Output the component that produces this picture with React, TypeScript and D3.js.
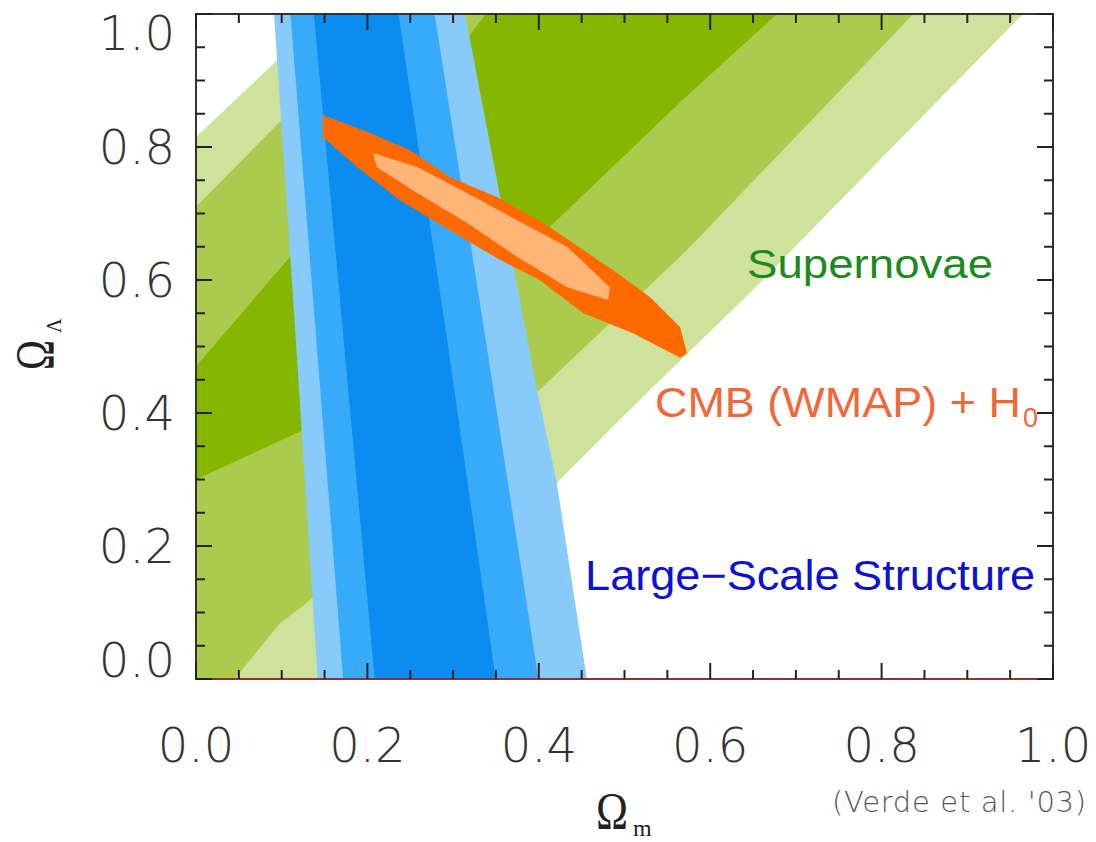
import React from "react";
import * as d3 from "d3";

type Pt = [number, number];

// Supernovae confidence regions in (Omega_m, Omega_Lambda), outer to inner
const snOuter: Pt[] = [
  [-0.03, 0.78], [0, 0.815], [0.095, 0.931], [0.16, 1.02], [0.975, 1.02],
  [0.965, 1.0], [0.8, 0.783], [0.646, 0.58], [0.53, 0.435], [0.421, 0.295],
  [0.3, 0.14], [0.189, 0.0], [0.175, -0.02], [-0.03, -0.02],
];
const snMid: Pt[] = [
  [-0.03, 0.67], [0, 0.71], [0.11, 0.854], [0.22, 1.02], [0.845, 1.02],
  [0.837, 1.0], [0.573, 0.645], [0.401, 0.435], [0.17, 0.16], [0.125, 0.11],
  [0.098, 0.084], [0.045, 0.0], [0.03, -0.02], [-0.03, -0.02],
];
const snInner: Pt[] = [
  [-0.03, 0.425], [0, 0.47], [0.1225, 0.654], [0.25, 0.85], [0.35, 1.02],
  [0.69, 1.02], [0.678, 1.0], [0.568, 0.871], [0.413, 0.68], [0.27, 0.52],
  [0.135, 0.38], [0, 0.3], [-0.03, 0.285],
];

// Large-scale structure bands
const lssOuter: Pt[] = [
  [0.09, 1.02], [0.1165, 0.51], [0.143, -0.02], [0.457, -0.02], [0.456, 0.0],
  [0.421, 0.295], [0.398, 0.435], [0.314, 1.0], [0.311, 1.02],
];
const lssMid: Pt[] = [
  [0.109, 1.02], [0.173, -0.02], [0.402, -0.02], [0.338, 0.51], [0.276, 1.02],
];
const lssInner: Pt[] = [
  [0.136, 1.02], [0.21, -0.02], [0.352, -0.02], [0.293, 0.51], [0.234, 1.02],
];

// CMB (WMAP) + H0 region
const cmbOuter: Pt[] = [
  [0.148, 0.848], [0.1995, 0.823], [0.25, 0.795], [0.296, 0.755], [0.351, 0.725],
  [0.405, 0.686], [0.452, 0.645], [0.491, 0.611], [0.53, 0.574], [0.565, 0.529],
  [0.573, 0.49], [0.565, 0.483], [0.51, 0.52], [0.452, 0.55], [0.401, 0.6],
  [0.355, 0.63], [0.296, 0.675], [0.238, 0.72], [0.188, 0.77], [0.148, 0.815],
];
const cmbInner: Pt[] = [
  [0.2065, 0.791], [0.258, 0.77], [0.316, 0.731], [0.3745, 0.69], [0.433, 0.65],
  [0.483, 0.589], [0.481, 0.57], [0.433, 0.589], [0.3745, 0.635], [0.316, 0.686],
  [0.258, 0.731], [0.211, 0.77],
];

const majorTicks = [0, 0.2, 0.4, 0.6, 0.8, 1.0];
const tickLabels = ["0.0", "0.2", "0.4", "0.6", "0.8", "1.0"];
const minorTicks = d3.range(0, 21).map((i) => i * 0.05);

const W = 1096;
const H = 842;
const margin = { top: 14, right: 43, bottom: 163, left: 196 };

export default function App() {
  const x = d3.scaleLinear().domain([0, 1]).range([margin.left, W - margin.right]);
  const y = d3.scaleLinear().domain([0, 1]).range([H - margin.bottom, margin.top]);
  const line = d3
    .line<Pt>()
    .x((d) => x(d[0]))
    .y((d) => y(d[1]))
    .curve(d3.curveLinearClosed);

  const x0 = x(0), x1 = x(1), y0 = y(0), y1 = y(1);
  const majorLen = 16;
  const minorLen = 9;
  const isMajor = (v: number) => Math.abs(v * 5 - Math.round(v * 5)) < 1e-6;

  const regions: { pts: Pt[]; fill: string }[] = [
    { pts: snOuter, fill: "#cfe29c" },
    { pts: snMid, fill: "#aacb4e" },
    { pts: snInner, fill: "#86b700" },
    { pts: lssOuter, fill: "#88cbfa" },
    { pts: lssMid, fill: "#38aafa" },
    { pts: lssInner, fill: "#0a8cf0" },
    { pts: cmbOuter, fill: "#ff6a00" },
    { pts: cmbInner, fill: "#ffb478" },
  ];

  const sans = "'Liberation Sans', Arial, sans-serif";
  const tickFont = "'DejaVu Sans', sans-serif";
  const serif = "'Liberation Serif', 'Times New Roman', serif";

  return (
    <svg width={W} height={H} style={{ position: "absolute", left: 0, top: 0, background: "#fff" }}>
      <defs>
        <clipPath id="plot">
          <rect x={x0} y={y1} width={x1 - x0} height={y0 - y1} />
        </clipPath>
      </defs>
      <g clipPath="url(#plot)">
        {regions.map((r, i) => (
          <path key={i} d={line(r.pts) || ""} fill={r.fill} />
        ))}
      </g>

      {/* annotations */}
      <text x={x(0.643)} y={y(0.603)} fontFamily={sans} fontSize={40} fill="#1d8a1d"
        textLength={246} lengthAdjust="spacingAndGlyphs">Supernovae</text>
      <text x={x(0.5355)} y={y(0.394)} fontFamily={sans} fontSize={42} fill="#f0683a"
        textLength={366} lengthAdjust="spacingAndGlyphs">CMB (WMAP) + H</text>
      <text x={x(0.5355) + 368} y={y(0.394) + 10} fontFamily={sans} fontSize={27} fill="#f0683a">0</text>
      <text x={x(0.454)} y={y(0.134)} fontFamily={sans} fontSize={42} fill="#0d12d0"
        textLength={450} lengthAdjust="spacingAndGlyphs">Large−Scale Structure</text>

      {/* frame */}
      <rect x={x0} y={y1} width={x1 - x0} height={y0 - y1} fill="none" stroke="#333" strokeWidth={2} />
      <line x1={x0} x2={x1} y1={y0} y2={y0} stroke="#e03030" strokeOpacity={0.55} strokeWidth={2} />

      {/* ticks */}
      <g stroke="#222" strokeWidth={2}>
        {minorTicks.map((v, i) => {
          const L = isMajor(v) ? majorLen : minorLen;
          return (
            <g key={i}>
              <line x1={x(v)} x2={x(v)} y1={y0} y2={y0 - L} />
              <line x1={x(v)} x2={x(v)} y1={y1} y2={y1 + L} />
              <line x1={x0} x2={x0 + L} y1={y(v)} y2={y(v)} />
              <line x1={x1} x2={x1 - L} y1={y(v)} y2={y(v)} />
            </g>
          );
        })}
      </g>

      {/* tick labels */}
      <g fontFamily={tickFont} fontSize={48} fontWeight={200} fill="#333">
        {majorTicks.map((v, i) => (
          <text key={"x" + i} x={x(v)} y={y0 + 83} textAnchor="middle">{tickLabels[i]}</text>
        ))}
        {majorTicks.map((v, i) => (
          <text key={"y" + i} x={x0 - 21}
            y={Math.min(Math.max(y(v), y1 + 19), y0 - 19) + 17} textAnchor="end">{tickLabels[i]}</text>
        ))}
      </g>

      {/* axis titles */}
      <text x={596} y={829} fontFamily={serif} fontSize={52} fill="#222"
        textLength={32} lengthAdjust="spacingAndGlyphs">Ω</text>
      <text x={633} y={836} fontFamily={serif} fontSize={24} fill="#222">m</text>
      <g transform="translate(53,370) rotate(-90)">
        <text x={0} y={0} fontFamily={serif} fontSize={54} fill="#222"
          textLength={30} lengthAdjust="spacingAndGlyphs">Ω</text>
        <text x={37} y={8} fontFamily={serif} fontSize={20} fill="#222">Λ</text>
      </g>
      <text x={832} y={812} fontFamily={tickFont} fontSize={29} fontWeight={200} fill="#555"
        textLength={254} lengthAdjust="spacing">(Verde et al. '03)</text>
    </svg>
  );
}
